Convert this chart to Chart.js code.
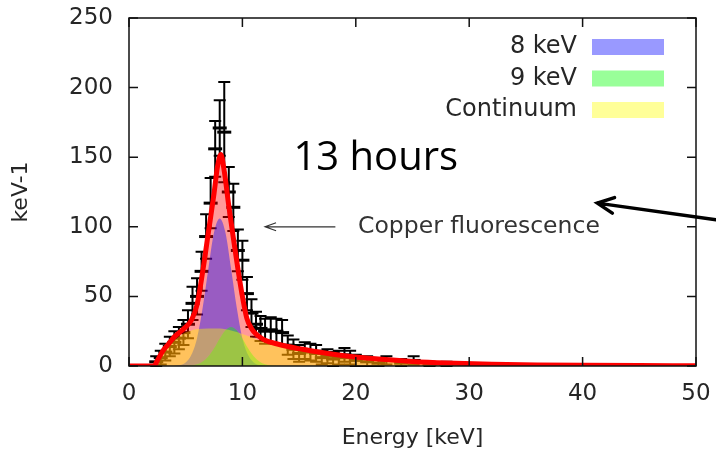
<!DOCTYPE html>
<html>
<head>
<meta charset="utf-8">
<script src="https://cdn.jsdelivr.net/npm/chart.js@4.4.1/dist/chart.umd.min.js"></script>
<style>
  html, body { margin: 0; padding: 0; background: #ffffff; }
  #wrap { width: 716px; height: 462px; }
</style>
</head>
<body>
<div id="wrap"><canvas id="spectrum" width="716" height="462"></canvas></div>
<script>
// ---- Fitted model curves (energy in keV, rate per keV) ----
const totalEnergy = [0, 2.2, 2.5, 3, 3.5, 4, 4.5, 5, 5.5, 6, 6.5, 7, 7.5, 7.8, 8.1, 8.4, 8.8, 9.2, 9.6, 10, 10.4, 10.8, 11.2, 11.6, 12, 13, 14, 15, 16, 18, 20, 22, 25, 28, 32, 36, 40, 45, 50];
const totalRate   = [0, 0, 4, 11, 16, 21, 24.5, 28, 33, 44, 68, 96, 124, 143, 152, 140, 115, 92, 70, 50, 34, 27, 23, 20.5, 18.5, 16, 14, 12.5, 11, 8.5, 6.5, 5, 3.3, 2.2, 1.3, 0.8, 0.5, 0.3, 0.2];

const continuumEnergy = [2.2, 2.6, 3, 3.5, 4, 4.5, 5, 5.5, 6, 7, 8, 9, 10, 11, 12, 13, 14, 15, 16, 18, 20, 22, 25, 28, 32, 36, 40, 45, 50];
const continuumRate   = [0, 4, 9, 14, 18.5, 21.5, 24, 25.5, 26.5, 27, 27, 25.5, 23, 20, 17, 15, 13.2, 11.8, 10.4, 8.1, 6.2, 4.8, 3.1, 2.0, 1.2, 0.7, 0.42, 0.26, 0.17];

const line8Energy = [4, 4.5, 5, 5.5, 6, 6.5, 7, 7.5, 8, 8.5, 9, 9.5, 10, 10.5, 11, 11.5, 12];
const line8Rate   = [0.1, 0.7, 2.6, 8, 20, 42, 70, 96, 106, 96, 70, 42, 20, 8, 2.6, 0.7, 0.1];

const line9Energy = [5, 5.5, 6, 6.5, 7, 7.5, 8, 8.5, 9, 9.5, 10, 10.5, 11, 11.5, 12, 12.5, 13];
const line9Rate   = [0.1, 0.4, 1.2, 3.2, 7, 12.8, 19.8, 25.7, 28, 25.7, 19.8, 12.8, 7, 3.2, 1.2, 0.4, 0.1];

// ---- Measured spectrum with statistical errors ----
const dataEnergy = [2.4, 2.8, 3.2, 3.6, 4.0, 4.4, 4.8, 5.2, 5.6, 6.0, 6.4, 6.8, 7.2, 7.6, 8.0, 8.4, 8.8, 9.2, 9.6, 10.0, 10.4, 10.8, 11.2, 11.6, 12.0, 12.5, 13.0, 13.5, 14.0, 14.5, 15.0, 15.5, 16.0, 16.5, 17.0, 17.5, 18.0, 18.5, 19.0, 19.5, 20.0, 21.0, 22.0, 22.7, 24.0, 25.1, 26.5, 28.0];
const dataRate   = [3, 6, 10, 14, 17, 20, 24, 30, 45, 50, 68, 93, 117, 156, 171, 168, 125, 114, 83, 76, 52, 38, 30, 27, 25, 26, 25, 24, 15, 12, 9, 11, 10, 9, 6, 7, 5, 6, 8, 6, 4, 3, 2, 4, 2, 4, 1, 1];
const dataError  = [4, 5, 6, 7, 8, 8, 9, 10, 12, 13, 14, 16, 18, 20, 20, 36, 18, 17, 15, 14, 12, 10, 9, 9, 9, 9, 9, 9, 7, 7, 6, 6, 6, 6, 5, 5, 5, 5, 5, 5, 4, 4, 3, 3, 3, 3, 2, 2];

// ---- Axes and legend ----
const xTicks = [0, 10, 20, 30, 40, 50];
const yTicks = [0, 50, 100, 150, 200, 250];
const legendLabels = ['8 keV', '9 keV', 'Continuum'];
const legendColors = ['rgba(0,0,255,0.4)', 'rgba(0,255,0,0.4)', 'rgba(255,255,0,0.4)'];

const TEXT = '#262626';
Chart.defaults.font.family = "'DejaVu Sans', sans-serif";

const toPoints = (E, V) => E.map((e, i) => ({ x: e, y: V[i] }));

// Vertical error bars with end caps, drawn underneath the filled curves
const errorBars = {
  id: 'errorBars',
  beforeDatasetsDraw(chart) {
    const { ctx, scales: { x, y } } = chart;
    ctx.save();
    ctx.strokeStyle = '#000';
    ctx.lineWidth = 2;
    for (let i = 0; i < dataEnergy.length; i++) {
      const px = x.getPixelForValue(dataEnergy[i]);
      const hi = y.getPixelForValue(dataRate[i] + dataError[i]);
      const lo = y.getPixelForValue(Math.max(0, dataRate[i] - dataError[i]));
      ctx.beginPath();
      ctx.moveTo(px, lo); ctx.lineTo(px, hi);
      ctx.moveTo(px - 6, hi); ctx.lineTo(px + 6, hi);
      ctx.moveTo(px - 6, lo); ctx.lineTo(px + 6, lo);
      ctx.stroke();
    }
    ctx.restore();
  }
};

// Closed border with inward tick marks on all four sides
const frame = {
  id: 'frame',
  afterDatasetsDraw(chart) {
    const { ctx, chartArea: a, scales: { x, y } } = chart;
    ctx.save();
    ctx.strokeStyle = '#111';
    ctx.lineWidth = 1.5;
    ctx.strokeRect(a.left, a.top, a.right - a.left, a.bottom - a.top);
    ctx.beginPath();
    const L = 9;
    xTicks.forEach(v => {
      const px = x.getPixelForValue(v);
      ctx.moveTo(px, a.bottom); ctx.lineTo(px, a.bottom - L);
      ctx.moveTo(px, a.top); ctx.lineTo(px, a.top + L);
    });
    yTicks.forEach(v => {
      const py = y.getPixelForValue(v);
      ctx.moveTo(a.left, py); ctx.lineTo(a.left + L, py);
      ctx.moveTo(a.right, py); ctx.lineTo(a.right - L, py);
    });
    ctx.stroke();
    ctx.restore();
  }
};

// Legend, annotations and arrows
const notes = {
  id: 'notes',
  afterDraw(chart) {
    const { ctx, chartArea: a, scales: { x, y }, width } = chart;
    ctx.save();

    // legend: right-aligned labels followed by colour swatches
    ctx.font = "24px 'DejaVu Sans'";
    ctx.textAlign = 'right';
    ctx.textBaseline = 'middle';
    legendLabels.forEach((lab, i) => {
      const cy = a.top + 29 + i * 31.5;
      ctx.fillStyle = TEXT;
      ctx.fillText(lab, a.right - 119, cy);
      ctx.fillStyle = legendColors[i];
      ctx.fillRect(a.right - 104, cy - 8, 72, 16);
    });

    // "13 hours"
    ctx.fillStyle = '#000';
    ctx.font = "40px 'Open Sans'";
    ctx.textAlign = 'left';
    ctx.textBaseline = 'alphabetic';
    ctx.fillText('13 hours', x.getPixelForValue(14.5), y.getPixelForValue(141));

    // Copper fluorescence label with thin arrow
    const cyCu = y.getPixelForValue(100);
    ctx.fillStyle = '#333';
    ctx.font = "23.5px 'DejaVu Sans'";
    ctx.textBaseline = 'middle';
    ctx.fillText('Copper fluorescence', x.getPixelForValue(20.2), cyCu);
    const tipX = x.getPixelForValue(12.0), tailX = x.getPixelForValue(18.2);
    ctx.strokeStyle = '#333';
    ctx.lineWidth = 1.2;
    ctx.beginPath();
    ctx.moveTo(tailX, cyCu); ctx.lineTo(tipX, cyCu);
    ctx.moveTo(tipX + 11, cyCu - 4); ctx.lineTo(tipX, cyCu); ctx.lineTo(tipX + 11, cyCu + 4);
    ctx.stroke();

    // heavy arrow coming in from the right edge
    const bx = x.getPixelForValue(41.3), by = y.getPixelForValue(117);
    const ex = width, ey = by + (ex - bx) * 0.14;
    const ang = Math.atan2(ey - by, ex - bx);
    ctx.strokeStyle = '#000';
    ctx.lineWidth = 3.5;
    ctx.lineCap = 'round';
    ctx.beginPath();
    ctx.moveTo(ex, ey); ctx.lineTo(bx, by);
    const h = 18, spread = 0.45;
    ctx.moveTo(bx + h * Math.cos(ang - spread), by + h * Math.sin(ang - spread));
    ctx.lineTo(bx, by);
    ctx.lineTo(bx + h * Math.cos(ang + spread), by + h * Math.sin(ang + spread));
    ctx.stroke();

    ctx.restore();
  }
};

const curve = (label, E, V, fillColor, order) => ({
  label, data: toPoints(E, V), order,
  fill: 'origin', backgroundColor: fillColor,
  borderColor: 'rgba(0,0,0,0)', borderWidth: 0,
  pointRadius: 0, cubicInterpolationMode: 'monotone'
});

// keep the plot box fixed: no extra room reserved for overhanging tick labels
const noOverhang = s => { s.paddingTop = 0; s.paddingBottom = 0; s.paddingLeft = 0; s.paddingRight = 0; };

new Chart(document.getElementById('spectrum'), {
  type: 'line',
  data: {
    datasets: [
      {
        label: 'Total', data: toPoints(totalEnergy, totalRate), order: 0,
        fill: false, borderColor: '#ff0000', borderWidth: 5,
        pointRadius: 0, cubicInterpolationMode: 'monotone', borderJoinStyle: 'round'
      },
      curve('Continuum', continuumEnergy, continuumRate, legendColors[2], 1),
      curve('9 keV', line9Energy, line9Rate, legendColors[1], 2),
      curve('8 keV', line8Energy, line8Rate, legendColors[0], 3),
      curve('Total fill', totalEnergy, totalRate, 'rgba(255,0,0,0.4)', 4),
      {
        type: 'scatter', label: 'Data', data: toPoints(dataEnergy, dataRate), order: 5,
        pointStyle: 'line', pointRadius: 7, pointBorderWidth: 3,
        pointBorderColor: '#000', borderColor: '#000', showLine: false
      }
    ]
  },
  options: {
    responsive: false,
    animation: false,
    devicePixelRatio: 1,
    layout: { padding: { top: 18, right: 20, left: 0, bottom: 0 } },
    plugins: { legend: { display: false }, tooltip: { enabled: false } },
    scales: {
      x: {
        type: 'linear', min: 0, max: 50,
        afterBuildTicks: s => { s.ticks = xTicks.map(v => ({ value: v })); },
        ticks: { color: TEXT, padding: 14, font: { size: 23 }, maxRotation: 0 },
        grid: { display: false, drawTicks: false }, border: { display: false },
        title: { display: true, text: 'Energy [keV]', color: TEXT, font: { size: 22 }, padding: { bottom: 11 } },
        afterFit: s => { s.height = 96; noOverhang(s); }
      },
      y: {
        type: 'linear', min: 0, max: 250,
        afterBuildTicks: s => { s.ticks = yTicks.map(v => ({ value: v })); },
        ticks: { color: TEXT, padding: 16, font: { size: 23 } },
        grid: { display: false, drawTicks: false }, border: { display: false },
        title: { display: true, text: 'keV-1', color: TEXT, font: { size: 22 }, padding: { top: 8 } },
        afterFit: s => { s.width = 129; noOverhang(s); }
      }
    }
  },
  plugins: [errorBars, frame, notes]
});
</script>
</body>
</html>
